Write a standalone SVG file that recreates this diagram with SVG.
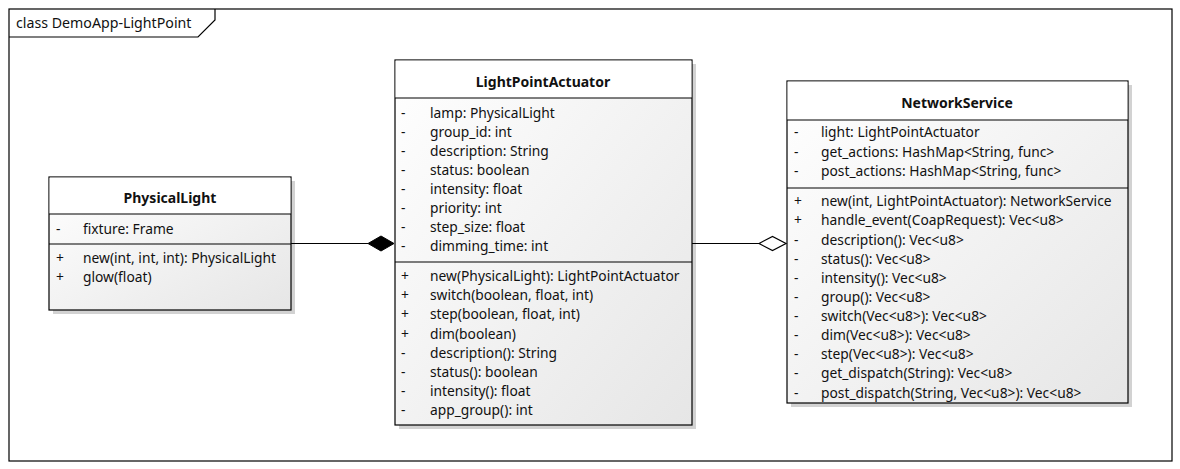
<svg xmlns="http://www.w3.org/2000/svg" width="1180" height="469" viewBox="0 0 1180 469">
<defs>
<linearGradient id="body" x1="0" y1="0" x2="1" y2="1">
<stop offset="0" stop-color="#ffffff"/>
<stop offset="1" stop-color="#e6e6e6"/>
</linearGradient>
<style>
text{font-family:"Noto Sans","Open Sans","Liberation Sans",sans-serif;font-size:13.8px;fill:#111}
.title{font-weight:bold;text-anchor:middle;font-size:14px}
.frame{fill:none;stroke:#000;stroke-width:1.2}
.shadow{fill:#d2d2d2}
.box{fill:url(#body);stroke:#000;stroke-width:1.2}
.head{fill:#fff;stroke:none}
.div{stroke:#000;stroke-width:1.2}
.conn{stroke:#000;stroke-width:1.2;fill:none}
</style>
</defs>
<rect width="1180" height="469" fill="#fff"/>
<g id="frame">
<rect class="frame" x="9" y="9" width="1163" height="452"/>
<path class="frame" d="M9,37 H198 L215,20 V9"/>
<text x="16" y="28" style="font-size:14.2px">class DemoApp-LightPoint</text>
</g>
<g id="PhysicalLight">
<rect class="shadow" x="53" y="181" width="242" height="133"/>
<rect class="box" x="49" y="177" width="242" height="133"/>
<rect class="head" x="49.6" y="177.6" width="240.8" height="36.4"/>
<line class="div" x1="49" y1="214" x2="291" y2="214"/>
<line class="div" x1="49" y1="244" x2="291" y2="244"/>
<text class="title" x="170" y="203">PhysicalLight</text>
<text x="56" y="234">-</text><text x="83" y="234">fixture: Frame</text>
<text x="56" y="263">+</text><text x="83" y="263">new(int, int, int): PhysicalLight</text>
<text x="56" y="282">+</text><text x="83" y="282">glow(float)</text>
</g>
<g id="LightPointActuator">
<rect class="shadow" x="399" y="64" width="297" height="365"/>
<rect class="box" x="395" y="60" width="297" height="365"/>
<rect class="head" x="395.6" y="60.6" width="295.8" height="37.4"/>
<line class="div" x1="395" y1="98" x2="692" y2="98"/>
<line class="div" x1="395" y1="262" x2="692" y2="262"/>
<text class="title" x="543" y="87">LightPointActuator</text>
<text x="401" y="118">-</text><text x="430" y="118">lamp: PhysicalLight</text>
<text x="401" y="137">-</text><text x="430" y="137">group_id: int</text>
<text x="401" y="156">-</text><text x="430" y="156">description: String</text>
<text x="401" y="175">-</text><text x="430" y="175">status: boolean</text>
<text x="401" y="194">-</text><text x="430" y="194">intensity: float</text>
<text x="401" y="213">-</text><text x="430" y="213">priority: int</text>
<text x="401" y="232">-</text><text x="430" y="232">step_size: float</text>
<text x="401" y="251">-</text><text x="430" y="251">dimming_time: int</text>
<text x="401" y="281">+</text><text x="430" y="281">new(PhysicalLight): LightPointActuator</text>
<text x="401" y="300">+</text><text x="430" y="300">switch(boolean, float, int)</text>
<text x="401" y="319">+</text><text x="430" y="319">step(boolean, float, int)</text>
<text x="401" y="339">+</text><text x="430" y="339">dim(boolean)</text>
<text x="401" y="358">-</text><text x="430" y="358">description(): String</text>
<text x="401" y="377">-</text><text x="430" y="377">status(): boolean</text>
<text x="401" y="396">-</text><text x="430" y="396">intensity(): float</text>
<text x="401" y="415">-</text><text x="430" y="415">app_group(): int</text>
</g>
<g id="NetworkService">
<rect class="shadow" x="791" y="85" width="341" height="322"/>
<rect class="box" x="787" y="81" width="341" height="322"/>
<rect class="head" x="787.6" y="81.6" width="339.8" height="38.4"/>
<line class="div" x1="787" y1="120" x2="1128" y2="120"/>
<line class="div" x1="787" y1="188" x2="1128" y2="188"/>
<text class="title" x="957" y="108">NetworkService</text>
<text x="794" y="137">-</text><text x="821" y="137">light: LightPointActuator</text>
<text x="794" y="157">-</text><text x="821" y="157">get_actions: HashMap&lt;String, func&gt;</text>
<text x="794" y="176">-</text><text x="821" y="176">post_actions: HashMap&lt;String, func&gt;</text>
<text x="794" y="206">+</text><text x="821" y="206">new(int, LightPointActuator): NetworkService</text>
<text x="794" y="225">+</text><text x="821" y="225">handle_event(CoapRequest): Vec&lt;u8&gt;</text>
<text x="794" y="245">-</text><text x="821" y="245">description(): Vec&lt;u8&gt;</text>
<text x="794" y="264">-</text><text x="821" y="264">status(): Vec&lt;u8&gt;</text>
<text x="794" y="283">-</text><text x="821" y="283">intensity(): Vec&lt;u8&gt;</text>
<text x="794" y="302">-</text><text x="821" y="302">group(): Vec&lt;u8&gt;</text>
<text x="794" y="321">-</text><text x="821" y="321">switch(Vec&lt;u8&gt;): Vec&lt;u8&gt;</text>
<text x="794" y="340">-</text><text x="821" y="340">dim(Vec&lt;u8&gt;): Vec&lt;u8&gt;</text>
<text x="794" y="359">-</text><text x="821" y="359">step(Vec&lt;u8&gt;): Vec&lt;u8&gt;</text>
<text x="794" y="378">-</text><text x="821" y="378">get_dispatch(String): Vec&lt;u8&gt;</text>
<text x="794" y="398">-</text><text x="821" y="398">post_dispatch(String, Vec&lt;u8&gt;): Vec&lt;u8&gt;</text>
</g>
<g id="connectors">
<line class="conn" x1="291" y1="243.5" x2="368" y2="243.5"/>
<polygon points="368,243.5 381,236 394,243.5 381,251" fill="#000" stroke="#000"/>
<line class="conn" x1="692" y1="243.5" x2="759" y2="243.5"/>
<polygon points="759,243.5 772.5,236.5 786,243.5 772.5,250.5" fill="#fff" stroke="#000" stroke-width="1.2"/>
</g>
</svg>
